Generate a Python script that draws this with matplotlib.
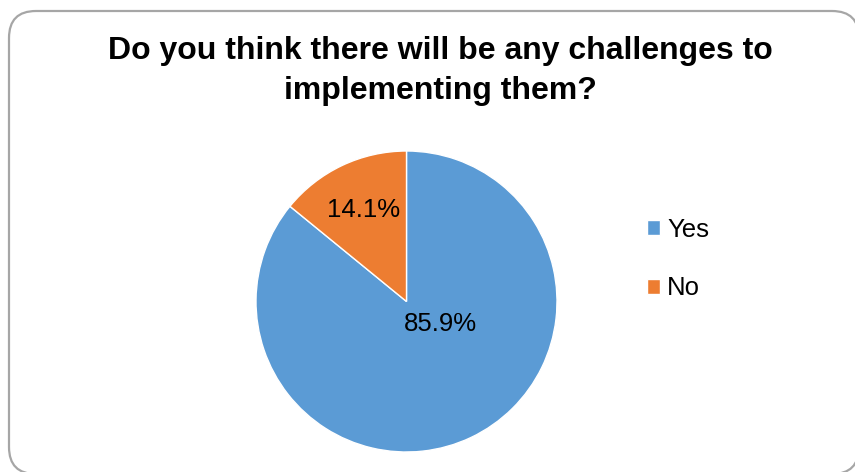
import matplotlib
matplotlib.use("Agg")
import matplotlib.pyplot as plt
from matplotlib.patches import FancyBboxPatch

plt.rcParams['font.family'] = ['Liberation Sans', 'DejaVu Sans']

# data
labels = ["Yes", "No"]
shares = [85.9, 14.1]
colors = ["#5B9BD5", "#ED7D31"]
title = "Do you think there will be any challenges to\nimplementing them?"

fig = plt.figure(figsize=(8.55, 4.72), dpi=100)

# rounded chart frame (in inches)
frame = FancyBboxPatch((0.09, -0.02), 8.50, 4.63,
                       boxstyle="round,pad=0,rounding_size=0.27",
                       transform=fig.dpi_scale_trans, facecolor="white",
                       edgecolor="#A6A6A6", linewidth=1.6, clip_on=False, zorder=0)
fig.add_artist(frame)

fig.text(0.5146, 1 - 36 / 472, title, ha="center", va="top", fontsize=23,
         fontweight="bold", linespacing=1.42, multialignment="center")

ax = fig.add_axes([256 / 855, 20 / 472, 301 / 855, 301 / 472])
wedges, texts, autotexts = ax.pie(shares, colors=colors, startangle=90, counterclock=False,
                                  autopct="%.1f%%", pctdistance=0.67,
                                  wedgeprops=dict(edgecolor="white", linewidth=1),
                                  textprops=dict(fontsize=18.5, color="black"))
# the big slice label sits near the middle, like in Excel
autotexts[0].set_position((0.223, -0.15))
ax.set_xlim(-1, 1)
ax.set_ylim(-1, 1)
ax.set_aspect("equal")

fig.legend(wedges, labels, loc="center left", bbox_to_anchor=(647 / 855, 1 - 259 / 472),
           frameon=False, fontsize=18.5, handlelength=0.5, handleheight=0.5,
           handletextpad=0.28, labelspacing=1.35, borderpad=0, borderaxespad=0)

fig.savefig("out.png", dpi=100)
